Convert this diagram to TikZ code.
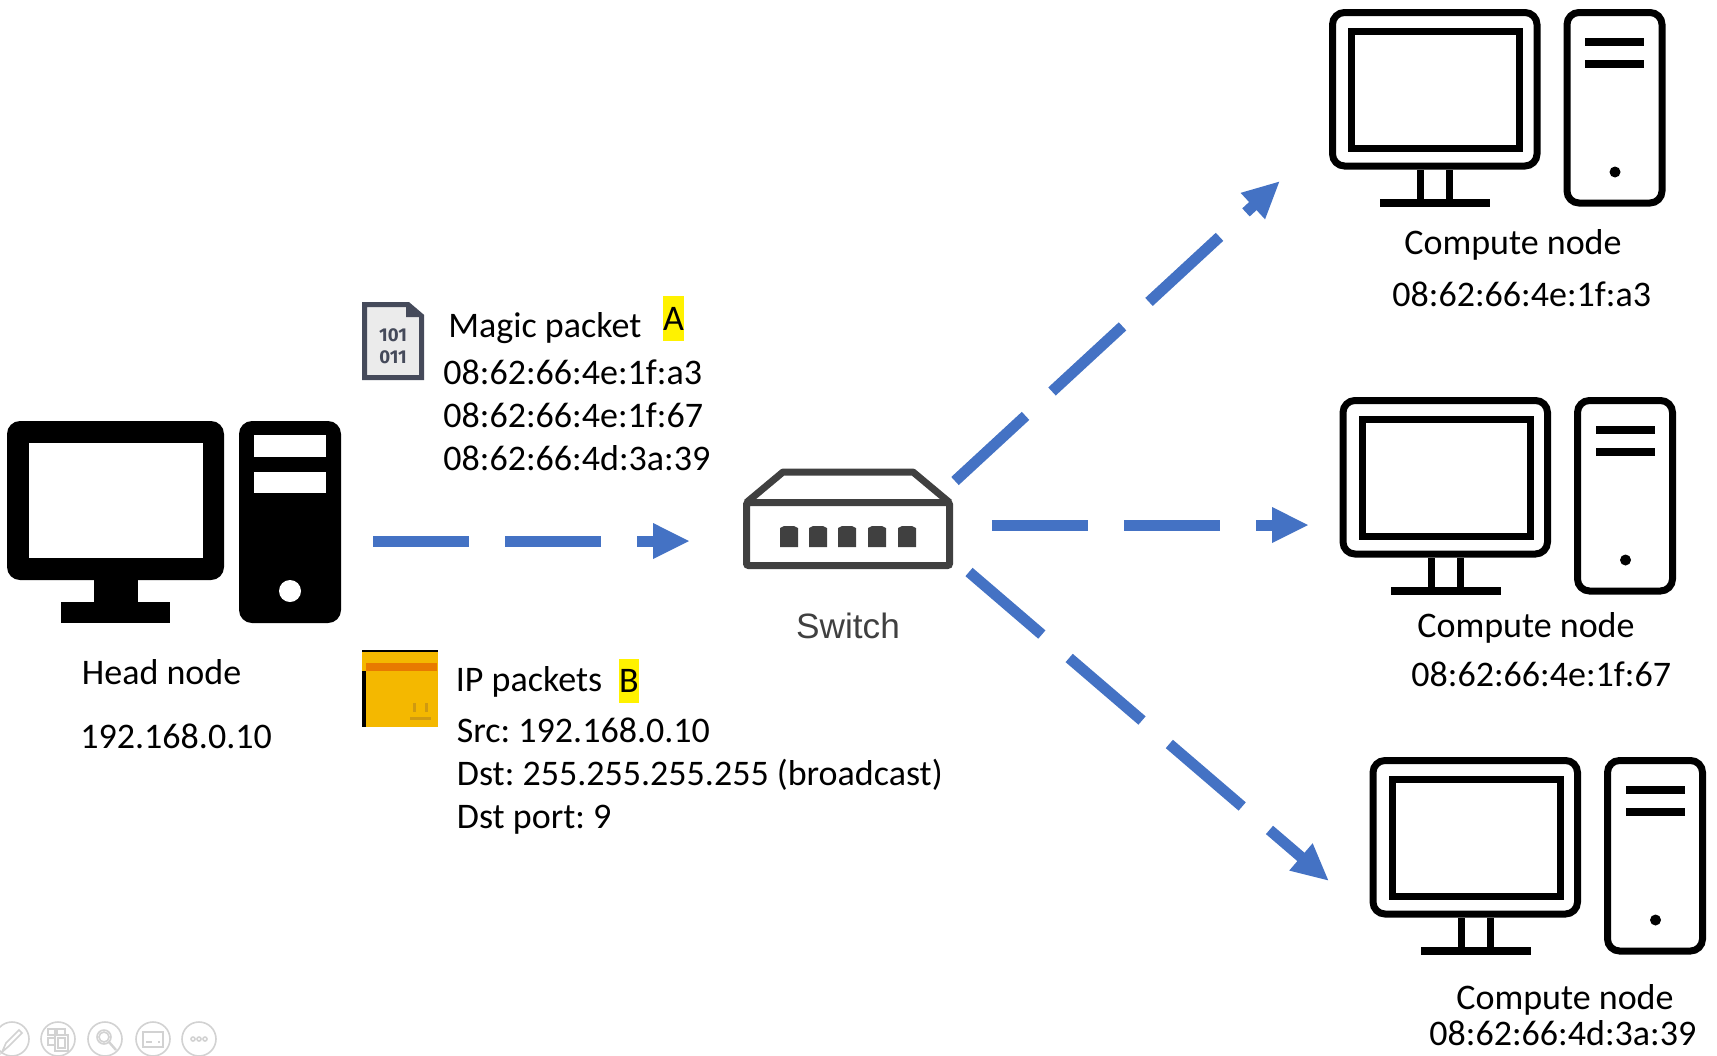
\documentclass[tikz,border=0pt]{standalone}
\usepackage{fontspec}
\setmainfont{Carlito}
\newfontfamily\switchfont{Liberation Sans}
\newfontfamily\bitsfont{Fira Sans}
\usetikzlibrary{arrows.meta}
\frenchspacing

\definecolor{linkblue}{HTML}{4472C4}
\definecolor{switchgray}{HTML}{404040}
\definecolor{filegray}{HTML}{454A5A}
\definecolor{boxyellow}{HTML}{F4B800}
\definecolor{boxorange}{HTML}{E87A00}
\definecolor{boxmark}{HTML}{CF9A10}
\definecolor{toolgray}{HTML}{D2D2D2}

\tikzset{
    computer/.pic={
        \draw[line width=3.5pt, rounded corners=6pt] (3.5,3.5) rectangle (208,157);
        \draw[line width=3.5pt] (22.5,22) rectangle (190.5,139.5);
        \draw[line width=3.5pt] (91.5,161) -- (91.5,191);
        \draw[line width=3.5pt] (120.5,161) -- (120.5,191);
        \fill (51,190) rectangle (161,198);
        \draw[line width=3.5pt, rounded corners=6pt] (238,3.5) rectangle (333,194);
        \fill (256,29) rectangle (315,37);
        \fill (256,51) rectangle (315,59);
        \fill (286,163) circle (5.5);
    }
}

\begin{document}
\begin{tikzpicture}[x=0.5pt, y=-0.5pt]
        \tikzstyle{every node}=[inner sep=0pt, anchor=base west, font=\fontsize{18}{21}\selectfont]
        \tikzstyle{link}=[linkblue, line width=5.5pt, dash pattern=on 48pt off 18pt, -{Triangle[length=18.5pt, width=16.5pt]}]
        \tikzstyle{hilite}=[fill=yellow, anchor=base, text depth=5.5pt]
        \tikzstyle{toolicon}=[toolgray, line width=0.8pt]

        \path[use as bounding box, fill=white] (0,0) rectangle (1717,1055);

        % head node
        \fill[rounded corners=6.5pt] (7,421) rectangle (224,580);
        \fill[white] (29,443) rectangle (203,558);
        \fill (94,578) rectangle (138,604);
        \fill (61,602) rectangle (170,623);
        \fill[rounded corners=6.5pt] (239,421) rectangle (341,623);
        \fill[white] (254,435) rectangle (326,457);
        \fill[white] (254,472) rectangle (326,493);
        \fill[white] (290,591) circle (11);
        \node (headname) at (81.5,684) {Head node};
        \node (headip)   at (80,748) {192.168.0.10};

        % compute nodes
        \pic (compute1) at (1329,9) {computer};
        \pic (compute2) at (1339.5,397) {computer};
        \pic (compute3) at (1369.5,757) {computer};
        \node (name1) at (1404,254) {Compute node};
        \node (mac1)  at (1392,306) {08:62:66:4e:1f:a3};
        \node (name2) at (1417,637) {Compute node};
        \node (mac2)  at (1411,686) {08:62:66:4e:1f:67};
        \node (name3) at (1456,1009) {Compute node};
        \node (mac3)  at (1429,1045) {08:62:66:4d:3a:39};

        % switch
        \draw[switchgray, line width=3.5pt, rounded corners=1pt] (746.5,502.5) rectangle (949.5,565.5);
        \draw[switchgray, line width=3.5pt, line join=round] (746.5,502.5) -- (783,472) -- (913,472) -- (949.5,502.5);
        \fill[switchgray] (780,547) -- (780,528) -- (784,526) -- (794,526) -- (798,528) -- (798,547) -- cycle;
        \fill[switchgray] (809,547) -- (809,528) -- (813,526) -- (823,526) -- (827,528) -- (827,547) -- cycle;
        \fill[switchgray] (838,547) -- (838,528) -- (842,526) -- (852,526) -- (856,528) -- (856,547) -- cycle;
        \fill[switchgray] (868,547) -- (868,528) -- (872,526) -- (882,526) -- (886,528) -- (886,547) -- cycle;
        \fill[switchgray] (898,547) -- (898,528) -- (902,526) -- (912,526) -- (916,528) -- (916,547) -- cycle;
        \node (switchname) [anchor=base, text=switchgray, font=\switchfont\fontsize{17.6}{20}\selectfont] at (848,638) {Switch};

        % magic packet
        \draw[filegray, fill=black!8, line width=2.5pt] (364.5,304.5) -- (408,304.5) -- (421.5,316) -- (421.5,377.5) -- (364.5,377.5) -- cycle;
        \fill[filegray] (406,303) -- (423,317) -- (406,317) -- cycle;
        \node (bits1) [anchor=base, text=filegray, font=\bitsfont\bfseries\fontsize{9.3}{11}\selectfont] at (393,341) {101};
        \node (bits2) [anchor=base, text=filegray, font=\bitsfont\bfseries\fontsize{9.3}{11}\selectfont] at (393,363) {011};
        \node (magic) at (448,337) {Magic packet};
        \node (labela) [hilite, text height=17pt, minimum width=10.5pt] at (673.5,330) {A};
        \node (magic1) at (443,384) {08:62:66:4e:1f:a3};
        \node (magic2) at (443,427) {08:62:66:4e:1f:67};
        \node (magic3) at (443,470) {08:62:66:4d:3a:39};

        % ip packets
        \fill[boxyellow] (362,650) rectangle (438,727);
        \fill (362,650) rectangle (438,652);
        \fill (362,671) rectangle (366,727);
        \fill[boxorange] (366,663) rectangle (437,671);
        \fill[boxmark] (413,703) rectangle (415.5,712);
        \fill[boxmark] (425,703) rectangle (427.5,712);
        \fill[boxmark] (410,717) rectangle (431,720);
        \node (ip) at (455.5,691) {IP packets};
        \node (labelb) [hilite, text height=16.5pt, minimum width=10pt] at (629,692) {B};
        \node (ipsrc)  at (456.5,742) {Src: 192.168.0.10};
        \node (ipdst)  at (456.5,785) {Dst: 255.255.255.255 (broadcast)};
        \node (ipport) at (456.5,828) {Dst port: 9};

        % links
        \coordinate (headout) at (373,541);
        \coordinate (switchin) at (690,541);
        \coordinate (switchout1) at (955,481);
        \coordinate (switchout2) at (992,525);
        \coordinate (switchout3) at (969,572);
        \coordinate (computein1) at (1280,181);
        \coordinate (computein2) at (1309,525);
        \coordinate (computein3) at (1329,881);
        \draw[link] (headout) -- (switchin);
        \draw[link] (switchout1) -- (computein1);
        \draw[link] (switchout2) -- (computein2);
        \draw[link] (switchout3) -- (computein3);

        % toolbar
        \draw[toolicon] (12,1039) circle (17);
        \draw[toolicon] (58,1039) circle (17);
        \draw[toolicon] (105,1039) circle (17);
        \draw[toolicon] (153,1039) circle (17);
        \draw[toolicon] (199,1039) circle (17);
        \draw[toolicon] (2,1052) -- (6,1043) -- (19,1030) -- (22,1033) -- (9,1046) -- cycle;
        \draw[toolicon] (48,1029) rectangle (55,1035);
        \draw[toolicon] (57,1029) rectangle (65,1035);
        \draw[toolicon] (48,1038) rectangle (55,1045);
        \draw[toolicon] (55,1035) rectangle (68,1051);
        \draw[toolicon] (58,1038) rectangle (65,1048);
        \draw[toolicon] (104,1037) circle (7);
        \draw[toolicon] (104,1037) circle (5);
        \draw[toolicon, line width=1.2pt] (109,1042) -- (116,1050);
        \draw[toolicon] (143,1032) rectangle (163,1047);
        \draw[toolicon, dashed] (146,1042) -- (160,1042);
        \draw[toolicon] (193,1039) circle (2);
        \draw[toolicon] (199,1039) circle (2);
        \draw[toolicon] (205,1039) circle (2);
\end{tikzpicture}
\end{document}
